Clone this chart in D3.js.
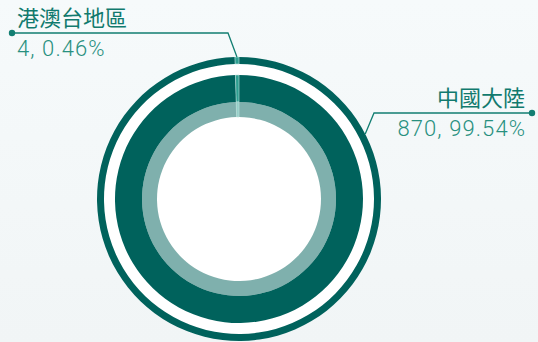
<!DOCTYPE html>
<html>
<head>
<meta charset="utf-8">
<script src="https://cdn.jsdelivr.net/npm/d3@7"></script>
<style>
  html, body { margin: 0; padding: 0; background: #f4f8f9; }
  svg { display: block; }
  .title { font-family: "Noto Sans CJK TC", "Noto Sans", sans-serif; font-weight: 400; }
  .value { font-family: "Roboto", "Liberation Sans", sans-serif; font-weight: 300; letter-spacing: 1.1px; }
</style>
</head>
<body>
<svg id="chart" width="538" height="342"></svg>
<script>
var regions = ["中國大陸", "港澳台地區"];
var counts = [870, 4];
var shares = ["99.54%", "0.46%"];
var colors = ["#00625c", "#2e9f91"];

var width = 538, height = 342;
var cx = 239, cy = 199;

var svg = d3.select("#chart");

var bg = svg.append("defs").append("linearGradient")
    .attr("id", "bg").attr("x1", 0).attr("y1", 0).attr("x2", 0).attr("y2", 1);
bg.append("stop").attr("offset", "0%").attr("stop-color", "#f6fafb");
bg.append("stop").attr("offset", "100%").attr("stop-color", "#f1f5f6");
svg.append("rect").attr("width", width).attr("height", height).attr("fill", "url(#bg)");

var data = regions.map(function(r, i) {
    return { region: r, count: counts[i], share: shares[i], color: colors[i] };
});

var pie = d3.pie().sort(null).value(function(d) { return d.count; });
var arcs = pie(data);

var g = svg.append("g").attr("transform", "translate(" + cx + "," + cy + ")");

// white base under everything
g.append("circle").attr("r", 136).attr("fill", "#ffffff");

function ring(inner, outer, opacity) {
    var arc = d3.arc().innerRadius(inner).outerRadius(outer);
    g.append("g").selectAll("path")
        .data(arcs)
        .enter().append("path")
        .attr("d", arc)
        .attr("fill", function(d) { return d.data.color; })
        .attr("fill-opacity", opacity)
        .attr("stroke", "#bfe3dd")
        .attr("stroke-width", function(d) { return d.data.count < 10 ? 0.6 : 0; });
}

ring(135, 142, 1);
ring(97, 124, 1);
ring(82, 97, 0.5);

// labels with leader lines
var labels = [
    { i: 1, angle: arcs[1].startAngle + (arcs[1].endAngle - arcs[1].startAngle) / 2,
      elbow: [228, 33], dot: [12, 33], anchor: "start", tx: 17 },
    { i: 0, angle: 1.095, elbow: [374, 113], dot: [532, 113], anchor: "end", tx: 525 }
];

labels.forEach(function(l) {
    var d = data[l.i];
    var r = 142;
    var px = cx + Math.sin(l.angle) * r, py = cy - Math.cos(l.angle) * r;
    svg.append("polyline")
        .attr("points", [[px, py], l.elbow, l.dot].map(function(p) { return p.join(","); }).join(" "))
        .attr("fill", "none")
        .attr("stroke", "#127e72")
        .attr("stroke-width", 1.3);
    svg.append("circle")
        .attr("cx", l.dot[0]).attr("cy", l.dot[1]).attr("r", 3.2)
        .attr("fill", "#127e72");
    svg.append("text")
        .attr("class", "title")
        .attr("x", l.tx).attr("y", l.dot[1] - 7)
        .attr("text-anchor", l.anchor)
        .attr("font-size", 22)
        .attr("fill", "#117a6e")
        .text(d.region);
    svg.append("text")
        .attr("class", "value")
        .attr("x", l.anchor == "end" ? l.tx + 1.1 : l.tx).attr("y", l.dot[1] + 23)
        .attr("text-anchor", l.anchor)
        .attr("font-size", 22)
        .attr("fill", "#28907f")
        .text(d.count + ", " + d.share);
});
</script>
</body>
</html>
